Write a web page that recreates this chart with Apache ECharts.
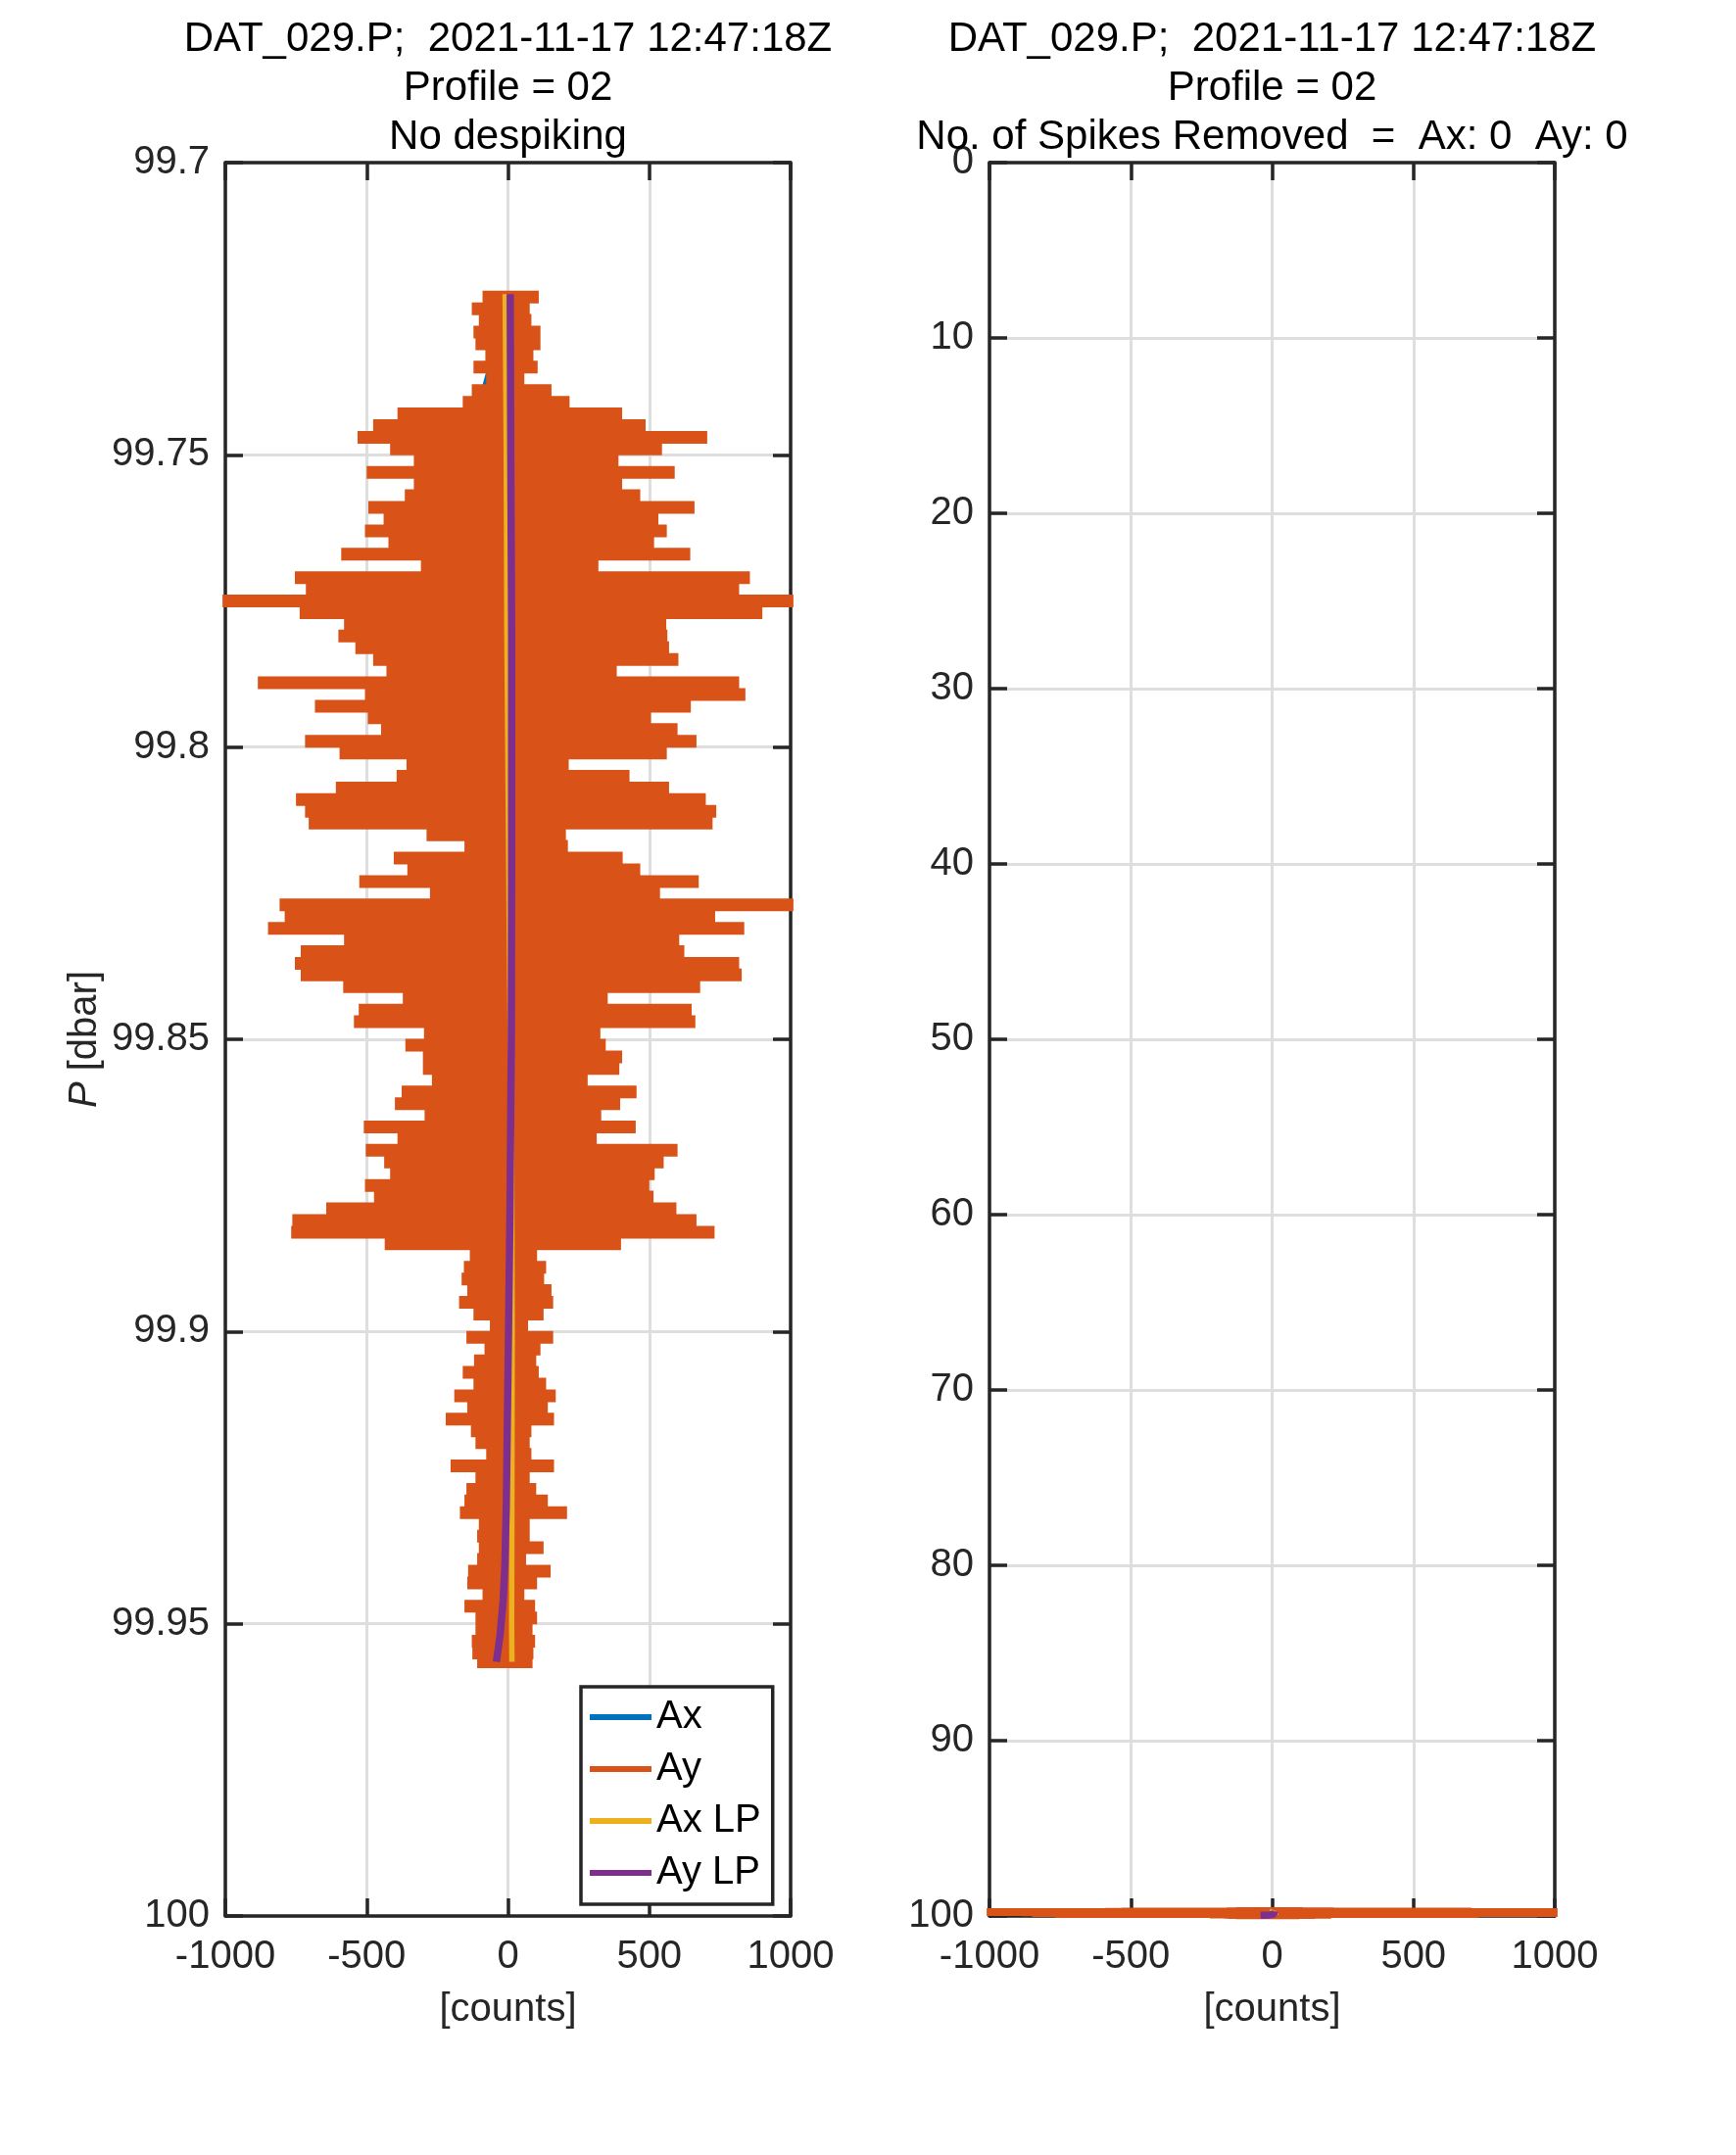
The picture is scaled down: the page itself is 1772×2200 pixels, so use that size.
<!DOCTYPE html>
<html>
<head>
<meta charset="utf-8">
<script src="https://cdn.jsdelivr.net/npm/echarts@6.0.0/dist/echarts.min.js"></script>
<style>
html,body{margin:0;padding:0;background:#ffffff;}
#chart{width:1772px;height:2200px;}
</style>
</head>
<body>
<div id="chart"></div>
<script>
// ---------------- data ----------------
// pressure levels [dbar] of the Ay traces
const pLevels = [
  99.723,99.725,99.727,99.729,99.731,99.733,99.735,99.737,99.739,99.741,
  99.743,99.745,99.747,99.749,99.751,99.753,99.755,99.757,99.759,99.761,
  99.763,99.765,99.767,99.769,99.771,99.773,99.775,99.777,99.779,99.781,
  99.783,99.785,99.787,99.789,99.791,99.793,99.795,99.797,99.799,99.801,
  99.803,99.805,99.807,99.809,99.811,99.813,99.815,99.817,99.819,99.821,
  99.823,99.825,99.827,99.829,99.831,99.833,99.835,99.837,99.839,99.841,
  99.843,99.845,99.847,99.849,99.851,99.853,99.855,99.857,99.859,99.861,
  99.863,99.865,99.867,99.869,99.871,99.873,99.875,99.877,99.879,99.881,
  99.883,99.885,99.887,99.889,99.891,99.893,99.895,99.897,99.899,99.901,
  99.903,99.905,99.907,99.909,99.911,99.913,99.915,99.917,99.919,99.921,
  99.923,99.925,99.927,99.929,99.931,99.933,99.935,99.937,99.939,99.941,
  99.943,99.945,99.947,99.949,99.951,99.953,99.955,99.9565
];
// Ay swing: most negative count at each level
const ayLeft = [
  -90,-128,-103,-122,-115,-80,-122,-77,-128,-160,
  -391,-477,-532,-417,-333,-500,-333,-365,-494,-440,
  -506,-423,-590,-308,-754,-715,-1010,-737,-580,-600,
  -540,-477,-430,-885,-506,-683,-496,-449,-718,-596,
  -359,-394,-609,-750,-718,-705,-288,-154,-404,-356,
  -526,-276,-808,-790,-849,-580,-733,-754,-733,-583,
  -372,-528,-545,-297,-363,-301,-301,-269,-376,-400,
  -295,-510,-391,-503,-438,-417,-506,-474,-643,-763,
  -767,-436,-135,-156,-164,-144,-173,-122,-64,-147,
  -83,-120,-160,-122,-190,-144,-220,-131,-115,-77,
  -203,-115,-147,-154,-170,-103,-109,-103,-109,-141,
  -144,-90,-154,-115,-115,-128,-126,-109
];
// Ay swing: most positive count at each level
const ayRight = [
  109,77,83,115,115,90,105,58,154,218,
  404,487,705,545,391,590,404,468,660,532,
  562,517,645,320,856,818,1010,900,560,564,
  570,603,385,818,840,647,506,600,667,562,
  215,430,570,700,737,724,205,212,406,468,
  675,538,1010,733,836,606,624,818,827,680,
  353,650,663,327,346,404,394,282,455,397,
  330,452,314,600,551,519,500,515,596,667,
  731,400,103,135,128,154,160,126,71,160,
  115,100,109,135,169,141,163,83,77,83,
  163,77,100,141,209,77,77,126,64,151,
  103,58,96,103,87,96,90,87
];
// Ax raw (mostly hidden behind Ay)
const axP = [99.7225, 99.739, 99.76, 99.80, 99.85, 99.90, 99.93, 99.9565];
const axV = [10, -85, 20, -40, 30, -20, 15, 5];
// low-pass traces
const axLpP = [99.7225, 99.75, 99.78, 99.81, 99.84, 99.87, 99.90, 99.93, 99.95, 99.9565];
const axLpV = [-10, -6, -4, 1, 6, 13, 15, 14, 13, 14];
const ayLpP = [99.7225, 99.75, 99.78, 99.82, 99.85, 99.88, 99.90, 99.915, 99.93, 99.94, 99.946, 99.952, 99.9565];
const ayLpV = [8, 10, 13, 13, 12, 7, 2, -2, -6, -11, -17, -28, -41];

// tick labels
const xTickLabels = ['-1000', '-500', '0', '500', '1000'];
const yTickLabelsLeft = ['99.7', '99.75', '99.8', '99.85', '99.9', '99.95', '100'];
const yTickLabelsRight = ['0', '10', '20', '30', '40', '50', '60', '70', '80', '90', '100'];

// titles
const titleLeft = ['DAT_029.P;  2021-11-17 12:47:18Z', 'Profile = 02', 'No despiking'];
const titleRight = ['DAT_029.P;  2021-11-17 12:47:18Z', 'Profile = 02', 'No. of Spikes Removed  =  Ax: 0  Ay: 0'];
const seriesNames = ['Ax', 'Ay', 'Ax LP', 'Ay LP'];

// ---------------- building ----------------
const FONT = "'Liberation Sans', Arial, Helvetica, sans-serif";
const TXT = '#262626';
const C_AX = '#0072BD', C_AY = '#D95319', C_AXLP = '#EDB120', C_AYLP = '#7E2F8E';

function swingData(L, R, P) {
  const d = [];
  for (let i = 0; i < P.length; i++) {
    d.push([L[i], P[i]], [R[i], P[i]], [null, null]);
  }
  return d;
}
function pairs(V, P) { return P.map((p, i) => [V[i], p]); }

const ayData = swingData(ayLeft, ayRight, pLevels);
const axData = pairs(axV, axP);
const axLpData = pairs(axLpV, axLpP);
const ayLpData = pairs(ayLpV, ayLpP);

const gridBox = [
  {left: 230, top: 166, width: 577, height: 1790},
  {left: 1010, top: 166, width: 577, height: 1790}
];

const lineAx = {color: TXT, width: 3.5};
function xAxes(gi) {
  return [{
    type: 'value', gridIndex: gi, position: 'bottom', min: -1000, max: 1000, interval: 500,
    axisLine: {show: true, onZero: false, lineStyle: lineAx},
    axisTick: {show: true, inside: true, length: 18, lineStyle: lineAx},
    axisLabel: {show: true, fontSize: 40, color: TXT, fontFamily: FONT, margin: 22,
      formatter: v => xTickLabels[Math.round((v + 1000) / 500)]},
    splitLine: {show: true, lineStyle: {color: '#dedede', width: 3}},
    name: '[counts]', nameLocation: 'middle', nameGap: 76,
    nameTextStyle: {fontSize: 40, color: TXT, fontFamily: FONT}
  }, {
    type: 'value', gridIndex: gi, position: 'top', min: -1000, max: 1000, interval: 500,
    axisLine: {show: true, onZero: false, lineStyle: lineAx},
    axisTick: {show: true, inside: true, length: 18, lineStyle: lineAx},
    axisLabel: {show: false}, splitLine: {show: false}
  }];
}
function yAxes(gi, min, max, interval, labels, name) {
  const base = {
    type: 'value', gridIndex: gi, min: min, max: max, interval: interval, inverse: true,
    axisLine: {show: true, onZero: false, lineStyle: lineAx},
    axisTick: {show: true, inside: true, length: 18, lineStyle: lineAx}
  };
  const left = Object.assign({}, base, {
    position: 'left',
    axisLabel: {show: true, fontSize: 40, color: TXT, fontFamily: FONT, margin: 16,
      formatter: v => labels[Math.round((v - min) / interval)]},
    splitLine: {show: true, lineStyle: {color: '#dedede', width: 3}}
  });
  if (name) {
    left.name = '{i|P} [dbar]';
    left.nameLocation = 'middle';
    left.nameGap = 123;
    left.nameTextStyle = {fontSize: 40, color: TXT, fontFamily: FONT,
      rich: {i: {fontSize: 40, color: TXT, fontFamily: FONT, fontStyle: 'italic'}}};
  }
  const right = Object.assign({}, base, {
    position: 'right', axisLabel: {show: false}, splitLine: {show: false}
  });
  return [left, right];
}

function seriesFor(gi, ayWidth) {
  const xi = gi * 2, yi = gi * 2;
  const common = {type: 'line', xAxisIndex: xi, yAxisIndex: yi, showSymbol: false, symbol: 'none',
    animation: false, clip: true, connectNulls: false, silent: true};
  return [
    Object.assign({}, common, {name: seriesNames[0], data: axData, color: C_AX,
      lineStyle: {color: C_AX, width: 6}}),
    Object.assign({}, common, {name: seriesNames[1], data: ayData, color: C_AY,
      lineStyle: {color: C_AY, width: ayWidth, cap: 'butt'}}),
    Object.assign({}, common, {name: seriesNames[2], data: axLpData, color: C_AXLP,
      lineStyle: {color: C_AXLP, width: 5.5}}),
    Object.assign({}, common, {name: seriesNames[3], data: ayLpData, color: C_AYLP,
      lineStyle: {color: C_AYLP, width: 7.5}})
  ];
}

const titleStyle = {fontSize: 42, lineHeight: 50, fontWeight: 'normal', color: '#000000', fontFamily: FONT};

const option = {
  backgroundColor: '#ffffff',
  animation: false,
  title: [
    {text: titleLeft.join('\n'), left: 518.5, top: 15, textAlign: 'center', padding: 0, textStyle: titleStyle},
    {text: titleRight.join('\n'), left: 1298.5, top: 15, textAlign: 'center', padding: 0, textStyle: titleStyle}
  ],
  legend: {
    data: seriesNames, orient: 'vertical', left: 593, top: 1722,
    padding: [11, 12, 12, 9], itemWidth: 63, itemHeight: 6, itemGap: 13, icon: 'rect',
    selectedMode: false, backgroundColor: '#ffffff', borderColor: TXT, borderWidth: 3.5,
    textStyle: {fontSize: 40, lineHeight: 40, color: '#000000', fontFamily: FONT}
  },
  grid: gridBox,
  xAxis: [...xAxes(0), ...xAxes(1)],
  yAxis: [...yAxes(0, 99.7, 100, 0.05, yTickLabelsLeft, true), ...yAxes(1, 0, 100, 10, yTickLabelsRight, false)],
  series: [...seriesFor(0, 13), ...seriesFor(1, 8)]
};

const chart = echarts.init(document.getElementById('chart'), null, {renderer: 'canvas'});
chart.setOption(option);
</script>
</body>
</html>
